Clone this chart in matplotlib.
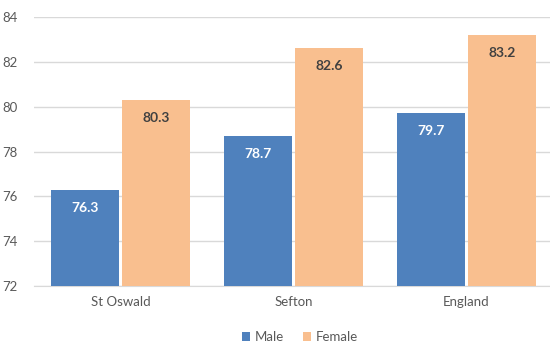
import matplotlib
matplotlib.use("Agg")
import matplotlib.pyplot as plt
import numpy as np

plt.rcParams['font.family'] = ['Lato', 'DejaVu Sans']

categories = ["St Oswald", "Sefton", "England"]
male = [76.3, 78.7, 79.7]
female = [80.3, 82.6, 83.2]
yticks = [72, 74, 76, 78, 80, 82, 84]

W, H = 550, 345
fig = plt.figure(figsize=(W/100, H/100), dpi=100)
ax = fig.add_axes([34/W, 1-286/H, (550-34)/W, (286-17)/H])

x = np.arange(len(categories))
bw = 0.393
off = 0.205
male_c = "#4F81BD"
fem_c = "#F9BF8F"
b1 = ax.bar(x - off, male, bw, color=male_c, label="Male", zorder=3)
b2 = ax.bar(x + off, female, bw, color=fem_c, label="Female", zorder=3)

ax.set_ylim(72, 84)
ax.set_xlim(-0.5, 2.5 - 3/173)
ax.set_yticks(yticks)
ax.set_xticks(x)
ax.set_xticklabels(categories)
ax.grid(axis="y", color="#D9D9D9", linewidth=1, zorder=0)
for s in ["top", "right", "left"]:
    ax.spines[s].set_visible(False)
ax.spines["bottom"].set_color("#D9D9D9")
ax.tick_params(axis="both", length=0, colors="#595959", labelsize=9.5)
ax.tick_params(axis="x", pad=7)
ax.tick_params(axis="y", pad=12)

for bars, vals, tc in ((b1, male, "white"), (b2, female, "#404040")):
    for r, v in zip(bars, vals):
        ax.annotate(f"{v:.1f}", (r.get_x() + r.get_width()/2, v),
                    xytext=(0, -13), textcoords="offset points",
                    ha="center", va="center", color=tc,
                    fontsize=10, fontweight="bold", zorder=4)

fig.legend(handles=[b1, b2], loc="center", bbox_to_anchor=(300/W, 1-337/H),
           ncol=2, frameon=False, fontsize=9.5, labelcolor="#595959",
           handlelength=0.6, handleheight=0.6, handletextpad=0.3, columnspacing=1.5)

fig.savefig("out.png", dpi=100)
